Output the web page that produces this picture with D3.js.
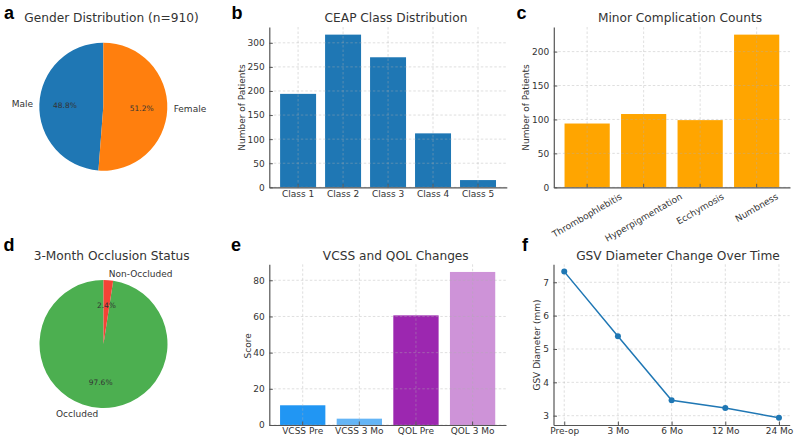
<!DOCTYPE html>
<html><head><meta charset="utf-8">
<script src="https://cdn.jsdelivr.net/npm/d3@7"></script>
<style>
body{margin:0;background:#fff}
svg text{font-family:"DejaVu Sans",sans-serif;fill:#333}
</style></head><body>
<svg id="chart" width="798" height="442"></svg>
<script>
// ---- data ----
const genderLabels = ["Male", "Female"];
const genderCounts = [444, 466];
const genderColors = ["#1f77b4", "#ff7f0e"];

const ceapClasses = ["Class 1", "Class 2", "Class 3", "Class 4", "Class 5"];
const ceapCounts = [194, 317, 270, 112, 15];
const ceapTicks = [0, 50, 100, 150, 200, 250, 300];

const complications = ["Thrombophlebitis", "Hyperpigmentation", "Ecchymosis", "Numbness"];
const complicationCounts = [94, 108, 99, 225];
const complicationTicks = [0, 50, 100, 150, 200];

const occlusionLabels = ["Occluded", "Non-Occluded"];
const occlusionCounts = [888, 22];
const occlusionColors = ["#4caf50", "#f44336"];

const scoreLabels = ["VCSS Pre", "VCSS 3 Mo", "QOL Pre", "QOL 3 Mo"];
const scoreValues = [10.9, 3.5, 60.6, 84.6];
const scoreColors = ["#2196f3", "#64b5f6", "#9c27b0", "#ce93d8"];
const scoreTicks = [0, 20, 40, 60, 80];

const timepoints = ["Pre-op", "3 Mo", "6 Mo", "12 Mo", "24 Mo"];
const gsvDiameter = [7.32, 5.38, 3.46, 3.23, 2.94];
const gsvTicks = [3, 4, 5, 6, 7];

// ---- drawing ----
const svg = d3.select("#chart");
const SPINE = "#555", GRID = "#b0b0b0";

function panelLetter(t, x, y) {
  svg.append("text").attr("x", x).attr("y", y).text(t)
    .style("font-family", "'Liberation Sans', Arial, sans-serif")
    .style("font-weight", "bold").style("font-size", "18px").style("fill", "#000");
}
function title(t, cx, y) {
  svg.append("text").attr("x", cx).attr("y", y).attr("text-anchor", "middle")
    .style("font-size", "12.2px").text(t);
}
function yLabel(t, x, cy) {
  svg.append("text").attr("transform", `translate(${x},${cy}) rotate(-90)`)
    .attr("text-anchor", "middle").style("font-size", "9px").text(t);
}

function pieChart(cx, cy, r, labels, values, colors) {
  const g = svg.append("g").attr("transform", `translate(${cx},${cy})`);
  const total = d3.sum(values);
  const arcs = d3.pie().sort(null).startAngle(0).endAngle(-2 * Math.PI)(values);
  const arc = d3.arc().innerRadius(0).outerRadius(r);
  g.selectAll("path").data(arcs).join("path")
    .attr("d", arc).attr("fill", (d, i) => colors[i]);
  arcs.forEach((a, i) => {
    const mid = (a.startAngle + a.endAngle) / 2;
    const lx = Math.sin(mid) * r * 1.1, ly = -Math.cos(mid) * r * 1.1;
    g.append("text").attr("x", lx).attr("y", ly)
      .attr("text-anchor", lx < 0 ? "end" : "start")
      .attr("dominant-baseline", "central").style("font-size", "9px").text(labels[i]);
    const px = Math.sin(mid) * r * 0.6, py = -Math.cos(mid) * r * 0.6;
    g.append("text").attr("x", px).attr("y", py)
      .attr("text-anchor", "middle").attr("dominant-baseline", "central")
      .style("font-size", "7.5px").text((values[i] / total * 100).toFixed(1) + "%");
  });
}

function styleAxis(sel) {
  sel.select(".domain").attr("stroke", SPINE).attr("stroke-width", 1.2);
  sel.selectAll(".tick line").attr("stroke", SPINE).attr("stroke-width", 1);
  sel.selectAll(".tick text").style("font-size", "9px").style("fill", "#333")
    .style("font-family", "'DejaVu Sans',sans-serif");
}

function grid(g, x, xs, y, ys, box) {
  const gg = g.append("g").attr("stroke", GRID).attr("stroke-opacity", 0.5)
    .attr("stroke-width", 0.8).attr("stroke-dasharray", "2.5,2");
  gg.selectAll("line.h").data(ys).join("line").attr("class", "h")
    .attr("x1", box.left).attr("x2", box.right).attr("y1", d => y(d)).attr("y2", d => y(d));
  gg.selectAll("line.v").data(xs).join("line").attr("class", "v")
    .attr("x1", d => x(d)).attr("x2", d => x(d)).attr("y1", box.top).attr("y2", box.bottom);
}

function barChart(box, cats, vals, colors, ticks, outerPad, rotate) {
  const g = svg.append("g");
  const x = d3.scaleBand().domain(cats).range([box.left, box.right])
    .paddingInner(0.2).paddingOuter(outerPad);
  const y = d3.scaleLinear().domain([0, d3.max(vals) * 1.05]).range([box.bottom, box.top]);
  g.selectAll("rect").data(cats).join("rect")
    .attr("x", d => x(d)).attr("width", x.bandwidth())
    .attr("y", (d, i) => y(vals[i])).attr("height", (d, i) => box.bottom - y(vals[i]))
    .attr("fill", (d, i) => Array.isArray(colors) ? colors[i] : colors);
  const xc = d => x(d) + x.bandwidth() / 2;
  grid(g, xc, cats, y, ticks, box);
  const ya = g.append("g").attr("transform", `translate(${box.left},0)`)
    .call(d3.axisLeft(y).tickValues(ticks).tickFormat(d3.format("d")).tickSizeInner(-3.5).tickSizeOuter(0).tickPadding(4.5));
  styleAxis(ya);
  const xa = g.append("g").attr("transform", `translate(0,${box.bottom})`)
    .call(d3.axisBottom(x).tickSizeInner(-3.5).tickSizeOuter(0).tickPadding(3));
  styleAxis(xa);
  if (rotate) {
    xa.selectAll(".tick text").each(function () {
      const t = d3.select(this);
      const w = this.getComputedTextLength(), h = 9 * 1.15;
      const a = rotate * Math.PI / 180;
      const bh = w * Math.sin(a) + h * Math.cos(a);
      t.attr("y", null).attr("dy", null)
        .attr("dominant-baseline", "central").attr("text-anchor", "middle")
        .attr("transform", `translate(0,${4 + bh / 2}) rotate(${-rotate})`);
    });
  }
  return g;
}

// Panel a
panelLetter("a", 4, 19);
title("Gender Distribution (n=910)", 111.5, 22);
pieChart(103.3, 106.7, 64, genderLabels, genderCounts, genderColors);

// Panel b
panelLetter("b", 231.5, 19);
title("CEAP Class Distribution", 396, 22);
barChart({left: 269.3, right: 506.8, top: 27, bottom: 187.3}, ceapClasses, ceapCounts, "#1f77b4", ceapTicks, 0.24);
yLabel("Number of Patients", 245, 107.5);

// Panel c
panelLetter("c", 516.5, 19);
title("Minor Complication Counts", 680, 22);
barChart({left: 553.8, right: 790, top: 27, bottom: 187.3}, complications, complicationCounts, "#ffa500", complicationTicks, 0.19, 30);
yLabel("Number of Patients", 528.5, 107.5);

// Panel d
panelLetter("d", 3.5, 251);
title("3-Month Occlusion Status", 111.7, 260);
pieChart(103.5, 344, 64, occlusionLabels, occlusionCounts, occlusionColors);

// Panel e
panelLetter("e", 231, 251);
title("VCSS and QOL Changes", 395.8, 260);
barChart({left: 269.3, right: 506, top: 264.3, bottom: 425}, scoreLabels, scoreValues, scoreColors, scoreTicks, 0.19);
yLabel("Score", 250.5, 345.8);

// Panel f
panelLetter("f", 522, 251);
title("GSV Diameter Change Over Time", 678, 260);
(function () {
  const box = {left: 553.5, right: 789.7, top: 264.3, bottom: 425};
  const g = svg.append("g");
  const x = d3.scalePoint().domain(timepoints).range([box.left, box.right]).padding(0.2);
  const ext = d3.extent(gsvDiameter), m = (ext[1] - ext[0]) * 0.05;
  const y = d3.scaleLinear().domain([ext[0] - m, ext[1] + m]).range([box.bottom, box.top]);
  grid(g, x, timepoints, y, gsvTicks, box);
  const ya = g.append("g").attr("transform", `translate(${box.left},0)`)
    .call(d3.axisLeft(y).tickValues(gsvTicks).tickFormat(d3.format("d")).tickSizeInner(-3.5).tickSizeOuter(0).tickPadding(4.5));
  styleAxis(ya);
  const xa = g.append("g").attr("transform", `translate(0,${box.bottom})`)
    .call(d3.axisBottom(x).tickSizeInner(-3.5).tickSizeOuter(0).tickPadding(3));
  styleAxis(xa);
  g.append("path").datum(gsvDiameter)
    .attr("d", d3.line().x((d, i) => x(timepoints[i])).y(d => y(d)))
    .attr("fill", "none").attr("stroke", "#1f77b4").attr("stroke-width", 1.5);
  g.selectAll("circle").data(gsvDiameter).join("circle")
    .attr("cx", (d, i) => x(timepoints[i])).attr("cy", d => y(d)).attr("r", 3)
    .attr("fill", "#1f77b4");
})();
yLabel("GSV Diameter (mm)", 540, 345);
</script>
</body></html>
